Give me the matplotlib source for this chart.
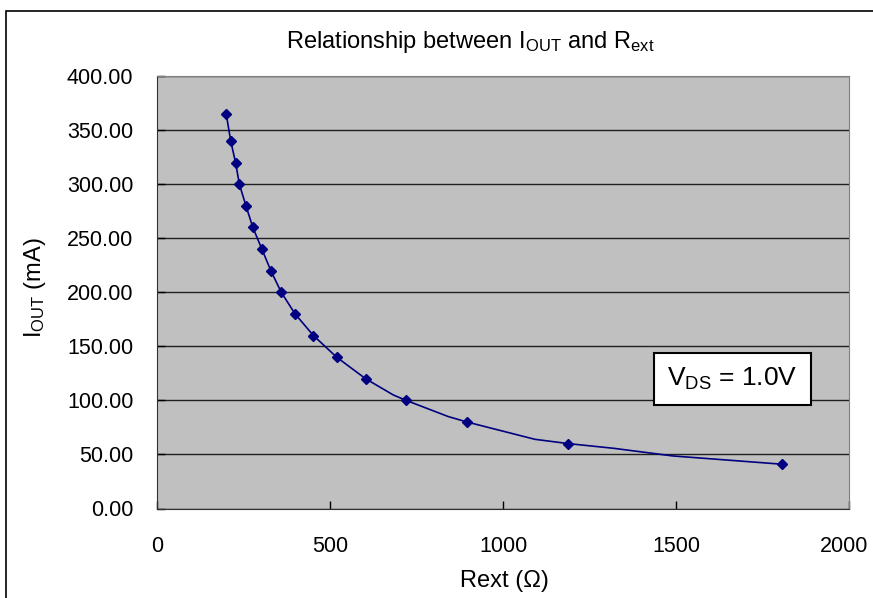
import matplotlib
matplotlib.use('Agg')
import matplotlib.pyplot as plt
from matplotlib import font_manager
from matplotlib.patches import Rectangle
from matplotlib.transforms import ScaledTranslation

# measured points (markers)
rext = [200, 213, 227, 238, 257, 277, 303, 329, 359, 399, 452, 519, 603, 720, 896, 1189, 1805]
iout = [365, 340, 320, 300, 280, 260, 240, 220, 200, 180, 160, 140, 120, 100, 80, 60, 41]

# the drawn curve also passes through some unmarked points
curve_r = [200, 213, 227, 238, 257, 277, 303, 329, 359, 399, 452, 519, 603, 683, 720, 842, 896,
           1092, 1189, 1319, 1491, 1805]
curve_i = [365, 340, 320, 300, 280, 260, 240, 220, 200, 180, 160, 140, 120, 105, 100, 85, 80,
           64, 60, 55.7, 48.6, 41]

yticks = [0, 50, 100, 150, 200, 250, 300, 350, 400]
xticks = [0, 500, 1000, 1500, 2000]

names = {f.name for f in font_manager.fontManager.ttflist}
fam = 'Liberation Sans Narrow' if 'Liberation Sans Narrow' in names else 'Liberation Sans'
plt.rcParams['font.family'] = [fam, 'DejaVu Sans']
plt.rcParams['mathtext.fontset'] = 'custom'
plt.rcParams['mathtext.rm'] = fam
fs = 17
tfs = 15.5

W, H = 873, 598
fig = plt.figure(figsize=(W / 100, H / 100), dpi=100)
fig.patch.set_facecolor('white')

# outer chart frame (runs off the right/bottom of the picture)
fig.patches.append(Rectangle((5.5 / W, -0.05), 2, 1 - 10.5 / H + 0.05, transform=fig.transFigure,
                             fill=False, edgecolor='black', lw=1.2))

ax = fig.add_axes([157 / W, 1 - 508.5 / H, (849 - 157) / W, (508.5 - 76) / H])
ax.set_facecolor('#c0c0c0')
ax.set_xlim(0, 2000)
ax.set_ylim(0, 400)

ax.plot(curve_r, curve_i, color='#000080', lw=1.2, zorder=3)
ax.plot(rext, iout, ls='none', marker='D', ms=5.5, color='#000080', zorder=4)

ax.set_yticks(yticks)
ax.set_yticklabels(['%.2f' % v for v in yticks])
ax.set_xticks(xticks)
ax.set_xticklabels([str(v) for v in xticks])
ax.grid(axis='y', color='#202020', lw=1)
ax.set_axisbelow(True)
ax.tick_params(direction='in', length=6, width=1, labelsize=tfs, color='black')
ax.tick_params(axis='x', pad=20)
ax.tick_params(axis='y', pad=17)

# keep the last x label inside the picture, like the original
last = ax.get_xticklabels()[-1]
last.set_transform(last.get_transform() + ScaledTranslation(-5 / 100, 0, fig.dpi_scale_trans))

for s in ['left', 'bottom']:
    ax.spines[s].set_color('#303030')
for s in ['top', 'right']:
    ax.spines[s].set_color('#808080')

fig.text(470 / W, 1 - 42 / H, r'Relationship between $\mathregular{I_{OUT}}$ and $\mathregular{R_{ext}}$',
         ha='center', va='center', fontsize=fs)
fig.text(35 / W, 1 - 288 / H, r'$\mathregular{I_{OUT}}$ (mA)', rotation=90,
         ha='center', va='center', fontsize=fs)
fig.text(504 / W, 1 - 581 / H, 'Rext (Ω)', ha='center', va='center', fontsize=fs)

# V_DS label box
fig.patches.append(Rectangle((653.7 / W, 1 - 405 / H), 157 / W, 52.3 / H, transform=fig.transFigure,
                             facecolor='white', edgecolor='black', lw=1.5, zorder=5))
fig.text(732 / W, 1 - 379 / H, r'$\mathregular{V_{DS}}$ = 1.0V', ha='center', va='center',
         fontsize=fs + 2, zorder=6)

fig.savefig('out.png', dpi=100)
